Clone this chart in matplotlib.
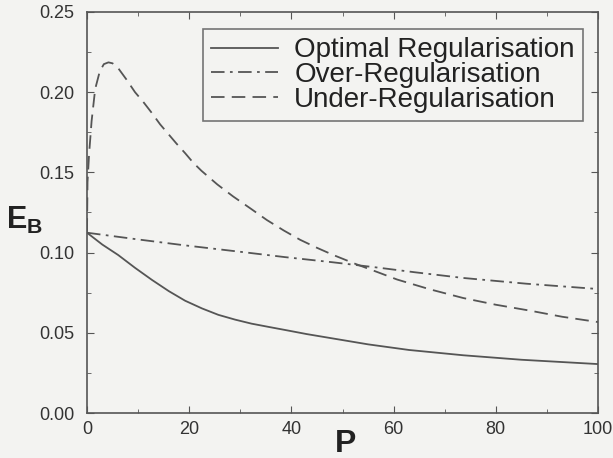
import matplotlib
matplotlib.use("Agg")
import matplotlib.pyplot as plt
from matplotlib.ticker import MultipleLocator

# Generalisation error E_B versus number of examples P
p_opt = [0, 3, 6.1, 9.4, 12.7, 16, 19.2, 22.5, 25.7, 29, 32.2, 35.5, 38.7, 43, 47.5,
         55, 63, 73.6, 85, 100]
e_opt = [0.1124, 0.105, 0.0985, 0.0905, 0.0830, 0.0760, 0.0700, 0.0652, 0.0612, 0.0582,
         0.0557, 0.0537, 0.0518, 0.0492, 0.0468, 0.0428, 0.0393, 0.0360, 0.0332, 0.0305]

p_over = [0, 10, 19.2, 30, 38.7, 48, 57.3, 64, 73.6, 86, 100]
e_over = [0.1124, 0.1082, 0.1045, 0.1005, 0.0972, 0.0940, 0.0905, 0.0878, 0.0842, 0.0806, 0.0773]

p_under = [0, 0.1, 0.4, 0.9, 1.6, 2.5, 3.3, 4.2, 5, 6.1, 7.7, 9.4, 11, 12.7, 14.3, 15.9,
           17.5, 19.2, 20.8, 22.4, 25.5, 28.6, 32, 35.2, 38.5, 41.7, 45, 48.2, 52.5,
           57.3, 60.7, 67, 73.6, 80, 86.7, 93, 100]
e_under = [0.113, 0.144, 0.161, 0.182, 0.202, 0.213, 0.2175, 0.2186, 0.218, 0.215, 0.208,
           0.200, 0.194, 0.187, 0.180, 0.174, 0.168, 0.162, 0.156, 0.151, 0.1425, 0.135,
           0.1275, 0.1203, 0.1138, 0.108, 0.1030, 0.0985, 0.0930, 0.0873, 0.0832, 0.0772,
           0.0717, 0.0675, 0.0638, 0.0600, 0.0567]

labels = ["Optimal Regularisation", "Over-Regularisation", "Under-Regularisation"]
x_ticks = [0, 20, 40, 60, 80, 100]
y_ticks = [0.00, 0.05, 0.10, 0.15, 0.20, 0.25]

bg = "#f3f3f1"
ink = "#555555"
text_c = "#222222"

plt.rcParams["font.family"] = ["Liberation Sans", "DejaVu Sans"]
plt.rcParams["mathtext.fontset"] = "custom"
plt.rcParams["mathtext.bf"] = "Liberation Sans:bold"

fig = plt.figure(figsize=(6.13, 4.58), dpi=100, facecolor=bg)
ax = fig.add_axes([87 / 613, 1 - 413 / 458, (598 - 87) / 613, (413 - 12) / 458])
ax.set_facecolor(bg)

ax.plot(p_opt, e_opt, color=ink, lw=1.3, ls="-", label=labels[0])
ax.plot(p_over, e_over, color=ink, lw=1.3, ls=(0, (7.5, 3, 1.5, 3)), label=labels[1])
ax.plot(p_under, e_under, color=ink, lw=1.3, ls=(0, (7.5, 4)), label=labels[2])

ax.set_xlim(0, 100)
ax.set_ylim(0, 0.25)
ax.set_xticks(x_ticks)
ax.set_yticks(y_ticks)
ax.set_xticklabels([str(v) for v in x_ticks])
ax.set_yticklabels([f"{v:.2f}" for v in y_ticks])
ax.xaxis.set_minor_locator(MultipleLocator(10))
ax.yaxis.set_minor_locator(MultipleLocator(0.025))
ax.tick_params(which="both", direction="in", top=True, right=True, color=ink,
               labelsize=13, labelcolor="#333333")
ax.tick_params(which="major", length=5)
ax.tick_params(which="minor", length=3)
ax.tick_params(axis="x", pad=6)
ax.tick_params(axis="y", pad=9)
for s in ax.spines.values():
    s.set_color(ink)
    s.set_linewidth(1.2)

fig.text(346 / 613, 1 - 452 / 458, "P", fontsize=23, fontweight="bold", color=text_c,
         ha="center", va="baseline")
fig.text(25 / 613, 1 - 220 / 458, r"$\mathbf{E}_\mathbf{B}$", fontsize=22, color=text_c,
         ha="center", va="center")

leg = ax.legend(loc="upper right", bbox_to_anchor=((583 - 87) / 511, (413 - 29) / 401),
                fontsize=20, frameon=True, fancybox=False, handlelength=2.4,
                handletextpad=0.6, borderpad=0.3, labelspacing=-0.05, borderaxespad=0)
leg.get_frame().set_edgecolor(ink)
leg.get_frame().set_facecolor(bg)
leg.get_frame().set_linewidth(1.2)
for t in leg.get_texts():
    t.set_color(text_c)

fig.savefig("out.png", dpi=100, facecolor=bg)
